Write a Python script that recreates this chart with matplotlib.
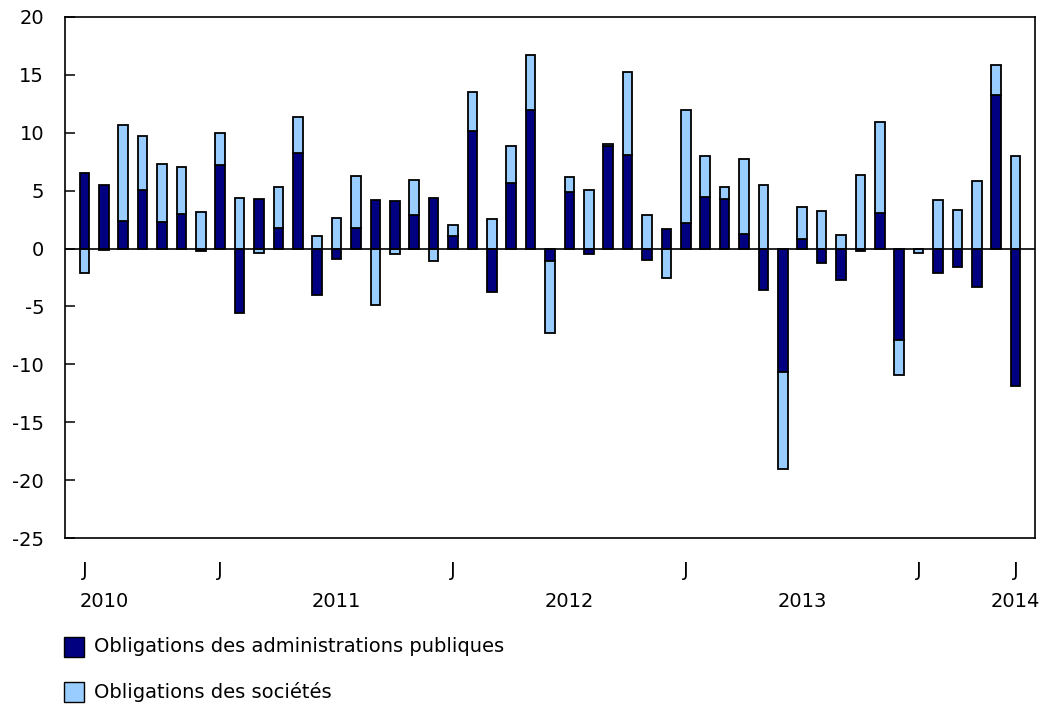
import numpy as np
import matplotlib
matplotlib.use("Agg")
import matplotlib.pyplot as plt
from matplotlib.patches import Rectangle

plt.rcParams['font.family'] = ['DejaVu Sans']
plt.rcParams['axes.unicode_minus'] = False

# Government bonds (Obligations des administrations publiques)
gov = [6.5, 5.5, 2.4, 5.07, 2.33, 3.02, -0.2, 7.22, -5.55, 4.3,
       1.76, 8.26, -4.0, -0.9, 1.76, 4.18, 4.09, 2.94, 4.4, 1.07,
       10.19, -3.71, 5.7, 12.0, -1.06, 4.92, -0.45, 8.9, 8.11, -0.95,
       1.67, 2.19, 4.46, 4.26, 1.27, -3.54, -10.7, 0.84, -1.25, -2.73,
       -0.2, 3.08, -7.94, 0.0, -2.1, -1.6, -3.33, 13.24, -11.85]
# Corporate bonds (Obligations des sociétés)
corp = [-2.13, -0.1, 8.25, 4.66, 5.0, 4.0, 3.14, 2.8, 4.35, -0.37,
        3.57, 3.13, 1.1, 2.6, 4.54, -4.86, -0.45, 2.99, -1.06, 0.98,
        3.36, 2.56, 3.17, 4.69, -6.24, 1.24, 5.05, 0.16, 7.17, 2.88,
        -2.5, 9.76, 3.57, 1.09, 6.5, 5.53, -8.34, 2.79, 3.25, 1.2,
        6.34, 7.88, -2.96, -0.4, 4.2, 3.37, 5.82, 2.64, 8.03]

j_pos = [0, 7, 19, 31, 43, 48]
j_labels = ["J", "J", "J", "J", "J", "J"]
year_pos = [1, 13, 25, 37, 48]
year_labels = ["2010", "2011", "2012", "2013", "2014"]

legend_labels = ["Obligations des administrations publiques", "Obligations des sociétés"]
dark = "#000080"
light = "#99CCFF"
fs = 14

W, H = 1043, 706
fig = plt.figure(figsize=(W / 100, H / 100), dpi=100)
ax = fig.add_axes([65 / W, 1 - 538 / H, (1035 - 65) / W, (538 - 17) / H])

gov_a = np.array(gov)
corp_a = np.array(corp)
x = np.arange(len(gov_a))
corp_bottom = np.where(np.sign(corp_a) == np.sign(gov_a), gov_a, 0.0)

bw = 0.5
ax.bar(x, gov_a, width=bw, color=dark, edgecolor="black", linewidth=1.3, zorder=2)
ax.bar(x, corp_a, bottom=corp_bottom, width=bw, color=light, edgecolor="black", linewidth=1.3, zorder=2)
ax.axhline(0, color="black", linewidth=1.2, zorder=3)

ax.set_xlim(-1, 49)
ax.set_ylim(-25, 20)
ax.set_yticks(np.arange(-25, 21, 5))
ax.tick_params(axis="y", direction="in", length=7.5, width=1.1, pad=15, labelsize=fs)
ax.set_xticks([])
for s in ax.spines.values():
    s.set_linewidth(1.2)

trans = ax.get_xaxis_transform()
ah = 538 - 17
for p, lab in zip(j_pos, j_labels):
    ax.text(p, -(576 - 538) / ah, lab, transform=trans, ha="center", va="baseline", fontsize=fs)
for p, lab in zip(year_pos, year_labels):
    ax.text(p, -(607 - 538) / ah, lab, transform=trans, ha="center", va="baseline", fontsize=fs)

# Legend
for i, (lab, col) in enumerate(zip(legend_labels, [dark, light])):
    yc = 647 + i * 45
    fig.patches.append(Rectangle((64 / W, 1 - (yc + 10) / H), 20 / W, 20 / H,
                                 transform=fig.transFigure, facecolor=col,
                                 edgecolor="black", linewidth=1.0))
    fig.text(94 / W, 1 - yc / H, lab, ha="left", va="center", fontsize=fs)

fig.savefig("out.png", dpi=100)
